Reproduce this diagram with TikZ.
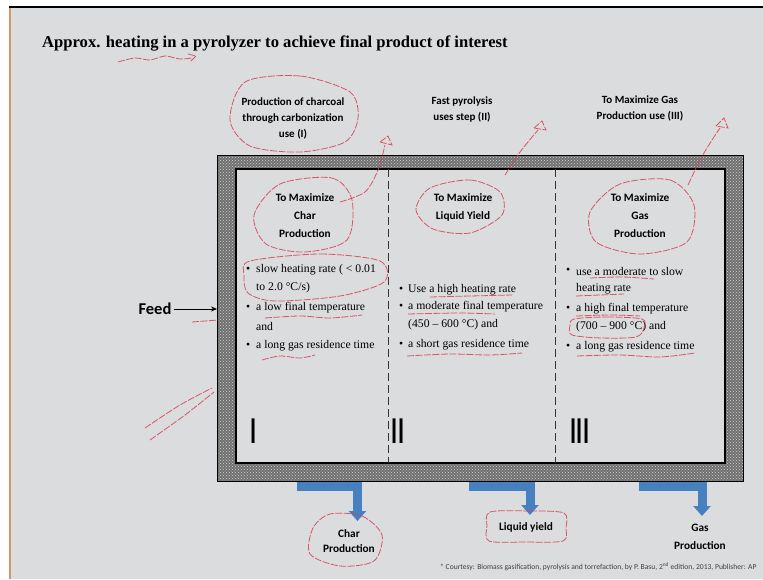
\documentclass[tikz,border=0pt]{standalone}
\usepackage{fontspec}
\setmainfont{Liberation Serif}
\newfontfamily\calfont{Carlito}
\usetikzlibrary{patterns,arrows.meta}
\definecolor{bg}{RGB}{219,220,222}
\definecolor{wall}{RGB}{112,112,112}
\definecolor{pipe}{RGB}{70,128,190}
\definecolor{ink}{RGB}{214,62,84}
\definecolor{edge}{RGB}{214,150,100}
\tikzset{
  lbl/.style={font=\calfont\bfseries\fontsize{11}{16}\selectfont, align=center, inner sep=0pt},
  goal/.style={font=\calfont\bfseries\fontsize{11.3}{18}\selectfont, align=center, inner sep=0pt},
  item/.style={font=\fontsize{11.7}{13}\selectfont, anchor=west, inner sep=0pt},
  dot/.style={font=\fontsize{11.7}{13}\selectfont, anchor=west, inner sep=0pt},
  roman/.style={font=\calfont\bfseries\fontsize{38}{40}\selectfont, inner sep=0pt},
  pipeline/.style={draw=pipe, line width=9pt, -{Triangle[width=17pt,length=10pt]}},
  ann/.style={draw=ink, line width=0.8pt, opacity=0.85, dash pattern=on 7pt off 1.5pt},
  divider/.style={draw=black!80, line width=0.9pt, dash pattern=on 8pt off 4pt}
}
\begin{document}
\begin{tikzpicture}[x=1pt,y=-1pt]
\useasboundingbox (0,0) rectangle (763,579);
\fill[white] (0,0) rectangle (763,579);
\fill[bg] (11,7) rectangle (763,579);
\draw[edge, line width=2.2pt] (10,7) -- (10,579);
\draw[black, line width=1.2pt] (9,7) -- (763,7);

% title
\node[anchor=west, inner sep=0pt, font=\bfseries\fontsize{16.6}{19}\selectfont] (title) at (42,43)
  {Approx. heating in a pyrolyzer to achieve final product of interest};

% header labels
\node[lbl] (h1) at (293,118) {Production of charcoal\\through carbonization\\use (I)};
\node[lbl] (h2) at (462,110) {Fast pyrolysis\\uses step (II)};
\node[lbl] (h3) at (640,108) {To Maximize Gas\\Production use (III)};

% reactor walls
\fill[wall] (217,155) rectangle (743,481);
\fill[pattern=crosshatch dots, pattern color=white!65!gray] (217,155) rectangle (743,481);
\draw[black, line width=0.7pt] (217,155) rectangle (743,481);
\fill[bg] (236,169) rectangle (725,463);
\draw[black, line width=1.3pt] (236,169) rectangle (725,463);

% dividers
\coordinate (d1t) at (388,169); \coordinate (d1b) at (388,463);
\coordinate (d2t) at (555,169); \coordinate (d2b) at (555,463);
\draw[divider] (d1t) -- (d1b);
\draw[divider] (d2t) -- (d2b);

% goals inside
\node[goal] (g1) at (305,216) {To Maximize\\Char\\Production};
\node[goal] (g2) at (463,207) {To Maximize\\Liquid Yield};
\node[goal] (g3) at (640,216) {To Maximize\\Gas\\Production};

% column I
\node[dot] (b1a) at (246,270) {•};
\node[item] (t1a) at (256,270) {slow heating rate ( < 0.01};
\node[item] (t1b) at (256,288) {to 2.0 °C/s)};
\node[dot] (b1b) at (246,308) {•};
\node[item] (t1c) at (256,308) {a low final temperature};
\node[item] (t1d) at (256,326) {and};
\node[dot] (b1c) at (246,346) {•};
\node[item] (t1e) at (256,346) {a long gas residence time};

% column II
\node[dot] (b2a) at (399,290) {•};
\node[item] (t2a) at (408,290) {Use a high heating rate};
\node[dot] (b2b) at (399,307) {•};
\node[item] (t2b) at (408,307) {a moderate final temperature};
\node[item] (t2c) at (408,325) {(450 – 600 °C) and};
\node[dot] (b2c) at (399,345) {•};
\node[item] (t2d) at (408,345) {a short gas residence time};

% column III
\node[dot] (b3a) at (566,271) {•};
\node[item] (t3a) at (576,271) {use a moderate to slow};
\node[item] (t3b) at (576,289) {heating rate};
\node[dot] (b3b) at (566,309) {•};
\node[item] (t3c) at (576,309) {a high final temperature};
\node[item] (t3d) at (576,327) {(700 – 900 °C) and};
\node[dot] (b3c) at (566,347) {•};
\node[item] (t3e) at (576,347) {a long gas residence time};

% roman numerals
\node[roman] (r1) at (254,431) {\scalebox{0.6}[1]{I}};
\node[roman] (r2) at (398,431) {\scalebox{0.6}[1]{II}};
\node[roman] (r3) at (580,431) {\scalebox{0.6}[1]{III}};

% feed
\node[font=\calfont\bfseries\fontsize{16.5}{18}\selectfont, inner sep=0pt] (feed) at (155,309) {Feed};
\coordinate (feedin) at (217,309);
\draw[black, line width=0.8pt, -{Stealth[length=6pt,width=5pt]}] (feed.east) ++(2,0) -- (feedin);

% outputs
\node[goal, font=\calfont\bfseries\fontsize{11.3}{15.5}\selectfont] (o1) at (349,541) {Char\\Production};
\node[goal] (o2) at (526,527) {Liquid yield};
\node[goal, font=\calfont\bfseries\fontsize{11.3}{18}\selectfont] (o3) at (700,537) {Gas\\Production};
\coordinate (p1) at (297,486); \coordinate (q1) at (357.5,521);
\coordinate (p2) at (469,486); \coordinate (q2) at (530,515);
\coordinate (p3) at (639,486); \coordinate (q3) at (702,516);
\draw[pipeline] (p1) -| (q1);
\draw[pipeline] (p2) -| (q2);
\draw[pipeline] (p3) -| (q3);

% footnote
\node[anchor=west, inner sep=0pt, font=\calfont\fontsize{7.6}{8}\selectfont, text=black!75] (foot) at (440,567)
  {* Courtesy: Biomass gasification, pyrolysis and torrefaction, by P. Basu, 2\textsuperscript{nd} edition, 2013, Publisher: AP};

% hand annotations (red)
\draw[ann] plot[smooth] coordinates {(118,62) (135,58) (150,60) (165,56) (180,59) (192,58)};
\draw[ann] (188,54) -- (196,56) -- (190,62);
\draw[ann] plot[smooth cycle] coordinates {(245,82) (300,76) (350,92) (358,118) (345,142) (300,152) (250,146) (230,120)};
\draw[ann] plot[smooth] coordinates {(340,202) (365,192) (378,170) (385,145)};
\draw[ann] (380,142) -- (388,136) -- (392,145) -- cycle;
\draw[ann] plot[smooth] coordinates {(505,175) (520,152) (538,130)};
\draw[ann] (534,128) -- (542,121) -- (546,130) -- cycle;
\draw[ann] plot[smooth] coordinates {(688,185) (700,160) (712,140) (720,128)};
\draw[ann] (716,126) -- (724,118) -- (728,128) -- cycle;
\draw[ann] plot[smooth cycle] coordinates {(280,184) (332,178) (352,200) (347,240) (305,252) (266,244) (254,215)};
\draw[ann] plot[smooth cycle] coordinates {(430,188) (470,180) (500,192) (502,215) (470,233) (433,229) (416,210)};
\draw[ann] plot[smooth cycle] coordinates {(620,184) (670,180) (694,205) (687,242) (640,254) (596,242) (590,212)};
\draw[ann] plot[smooth cycle] coordinates {(250,261) (320,254) (380,261) (384,282) (340,296) (275,301) (248,293) (244,275)};
\draw[ann] plot[smooth] coordinates {(265,318) (300,316) (330,318) (362,315)};
\draw[ann] plot[smooth] coordinates {(262,360) (280,356) (300,358) (315,355)};
\draw[ann] plot[smooth] coordinates {(192,322) (205,321) (218,320)};
\draw[ann] plot[smooth] coordinates {(145,428) (180,405) (212,388)};
\draw[ann] plot[smooth] coordinates {(150,440) (185,415) (214,392)};
\draw[ann] plot[smooth] coordinates {(430,297) (470,296) (512,295)};
\draw[ann] plot[smooth] coordinates {(408,314) (460,313) (495,314)};
\draw[ann] plot[smooth] coordinates {(407,356) (450,354) (490,355) (522,353)};
\draw[ann] plot[smooth] coordinates {(590,278) (622,277) (654,279)};
\draw[ann] plot[smooth] coordinates {(576,296) (600,295) (624,294)};
\draw[ann] plot[smooth] coordinates {(576,316) (610,315) (640,316)};
\draw[ann] plot[smooth cycle] coordinates {(574,319) (607,317) (642,319) (644,328) (636,337) (602,338) (572,335) (570,326)};
\draw[ann] plot[smooth] coordinates {(577,356) (620,355) (660,357) (695,353)};
\draw[ann] plot[smooth cycle] coordinates {(330,514) (362,516) (382,535) (374,561) (340,566) (310,554) (313,528)};
\draw[ann] plot[smooth cycle] coordinates {(490,512) (530,511) (564,513) (566,528) (563,541) (525,542) (489,541) (487,526)};
\end{tikzpicture}
\end{document}
